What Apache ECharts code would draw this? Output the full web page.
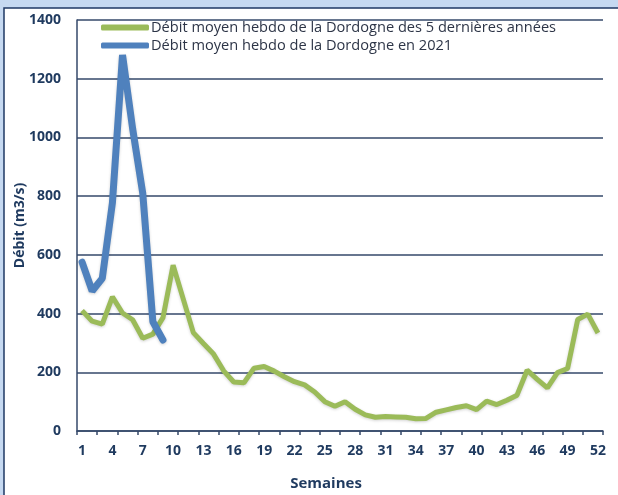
<!DOCTYPE html>
<html>
<head>
<meta charset="utf-8">
<script src="https://cdn.jsdelivr.net/npm/echarts@6/dist/echarts.min.js"></script>
<style>html,body{margin:0;padding:0;background:#fff}#c{width:618px;height:495px}</style>
</head>
<body>
<div id="c"></div>
<script>
var weeks = [];
for (var i = 1; i <= 52; i++) weeks.push(String(i));
var moyenne5ans = [410, 374, 364, 457, 402, 379, 316, 330, 386, 565, 450, 335, 298, 262, 205, 167, 164, 214, 220, 204, 185, 168, 157, 133, 100, 84, 100, 74, 55, 47, 49, 48, 47, 42, 43, 64, 72, 80, 86, 73, 102, 90, 105, 122, 207, 176, 147, 199, 213, 380, 398, 334];
var debit2021 = [575, 477, 520, 777, 1281, 1030, 810, 372, 310];
var seriesNames = ['Débit moyen hebdo de la Dordogne des 5 dernières années', 'Débit moyen hebdo de la Dordogne en 2021'];

var navy = '#1f3a5f';
var gridCol = '#34486a';
var chart = echarts.init(document.getElementById('c'), null, {renderer: 'canvas'});
chart.setOption({
  backgroundColor: '#c6d9f1',
  animation: false,
  graphic: [{
    type: 'rect', z: -10, silent: true,
    shape: {x: 4, y: 8, width: 620, height: 495},
    style: {fill: '#ffffff', stroke: '#1f3864', lineWidth: 1.5}
  }],
  grid: {left: 77, right: 15, top: 20, bottom: 64, containLabel: false, outerBoundsMode: 'none'},
  legend: {
    orient: 'vertical', left: 96, top: 15, itemGap: 3,
    itemWidth: 48, itemHeight: 6,
    icon: 'roundRect',
    textStyle: {fontFamily: 'Open Sans', fontSize: 14.6, color: '#2d3547', padding: [0, 0, 0, -3]},
    data: seriesNames
  },
  xAxis: {
    type: 'category', data: weeks, boundaryGap: true,
    name: 'Semaines', nameLocation: 'middle', nameGap: 45, nameMoveOverlap: false,
    nameTextStyle: {fontFamily: 'Open Sans', fontWeight: 'bold', fontSize: 15, color: navy, padding: [0, 28, 0, 0]},
    axisLine: {lineStyle: {color: gridCol, width: 1.5}},
    axisTick: {show: true, interval: 1, length: 4, lineStyle: {color: gridCol, width: 1.5}},
    axisLabel: {interval: 2, margin: 13, fontFamily: 'Open Sans', fontWeight: 'bold', fontSize: 14, color: navy},
    splitLine: {show: false}
  },
  yAxis: {
    type: 'value', min: 0, max: 1400, interval: 200,
    name: 'Débit (m3/s)', nameLocation: 'middle', nameGap: 50, nameRotate: 90, nameMoveOverlap: false,
    nameTextStyle: {fontFamily: 'Open Sans', fontWeight: 'bold', fontSize: 14, color: navy},
    axisLine: {show: true, lineStyle: {color: gridCol, width: 1.5}},
    axisTick: {show: false},
    axisLabel: {margin: 16, fontFamily: 'Open Sans', fontWeight: 'bold', fontSize: 14, color: navy,
      formatter: function (v) { return String(v); }},
    splitLine: {show: true, lineStyle: {color: gridCol, width: 1.5}}
  },
  series: [{
    name: seriesNames[0], type: 'line', data: moyenne5ans,
    symbol: 'none', showSymbol: false, z: 3,
    itemStyle: {color: '#9bbb59'},
    lineStyle: {color: '#9bbb59', width: 5, shadowColor: 'rgba(0,0,0,0.18)', shadowBlur: 3, shadowOffsetY: 1}
  }, {
    name: seriesNames[1], type: 'line', data: debit2021,
    symbol: 'none', showSymbol: false, z: 4,
    itemStyle: {color: '#4f81bd'},
    lineStyle: {color: '#4f81bd', width: 7, cap: 'round', shadowColor: 'rgba(0,0,0,0.18)', shadowBlur: 3, shadowOffsetY: 1}
  }]
});
</script>
</body>
</html>
